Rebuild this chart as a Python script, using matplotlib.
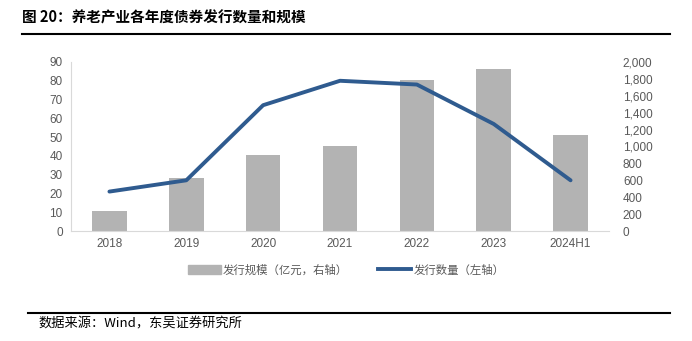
import matplotlib
matplotlib.use("Agg")
import matplotlib.pyplot as plt
from matplotlib.lines import Line2D
from matplotlib.patches import Patch

plt.rcParams["font.family"] = ["Liberation Sans", "Noto Sans CJK SC", "DejaVu Sans"]

years = ["2018", "2019", "2020", "2021", "2022", "2023", "2024H1"]
scale = [233, 622, 900, 1011, 1790, 1915, 1134]   # 发行规模 (亿元, right axis)
count = [21, 27, 67, 80, 78, 57, 27]               # 发行数量 (left axis)

BAR = "#b3b3b3"
LINE = "#2f5b8f"
TXT = "#595959"

fig = plt.figure(figsize=(6.92, 3.41), dpi=100)
ax = fig.add_axes([71 / 692, 1 - 231 / 341, 538 / 692, 169 / 341])
ax2 = ax.twinx()

x = range(len(years))
ax2.bar(x, scale, width=0.45, color=BAR, zorder=1)
ax.plot(x, count, color=LINE, lw=2.8, solid_capstyle="round", zorder=3)
ax.set_zorder(ax2.get_zorder() + 1)
ax.patch.set_visible(False)

ax.set_xlim(-0.5, 6.5)
ax.set_ylim(0, 90)
ax.set_yticks(range(0, 91, 10))
ax2.set_ylim(0, 2000)
ax2.set_yticks(range(0, 2001, 200))
ax2.set_yticklabels([f"{v:,}" for v in range(0, 2001, 200)])
ax.set_xticks(list(x))
ax.set_xticklabels(years)

for a in (ax, ax2):
    for s in a.spines.values():
        s.set_visible(False)
    a.tick_params(length=0, labelsize=8.5, labelcolor=TXT)
ax.spines["bottom"].set_visible(True)
ax.spines["bottom"].set_color("#d9d9d9")
ax.spines["left"].set_visible(True)
ax.spines["left"].set_color("#d9d9d9")
ax.tick_params(axis="y", pad=6)
ax.tick_params(axis="x", pad=5)
ax2.tick_params(axis="y", pad=10)

handles = [Patch(color=BAR), Line2D([], [], color=LINE, lw=2.8)]
fig.legend(handles, ["发行规模（亿元，右轴）", "发行数量（左轴）"],
           loc="center", bbox_to_anchor=(0.5, 1 - 270 / 341), ncol=2,
           frameon=False, labelcolor=TXT, handlelength=2.9,
           handleheight=0.9, columnspacing=2.6, handletextpad=0.2,
           prop={"family": ["Noto Sans CJK SC"], "size": 8.2})

fig.text(22 / 692, 1 - 18 / 341, "图 20：养老产业各年度债券发行数量和规模",
         fontsize=10.5, fontweight="bold", family=["Noto Sans CJK SC"],
         va="center", ha="left")
fig.add_artist(Line2D([22 / 692, 670 / 692], [1 - 34 / 341] * 2, color="black", lw=1.5))
fig.add_artist(Line2D([28 / 692, 670 / 692], [1 - 313 / 341] * 2, color="black", lw=1.5))
fig.text(38 / 692, 1 - 324 / 341, "数据来源：Wind，东吴证券研究所",
         fontsize=9.5, family=["Noto Sans CJK SC"], va="center", ha="left")

fig.savefig("out.png", dpi=100)
